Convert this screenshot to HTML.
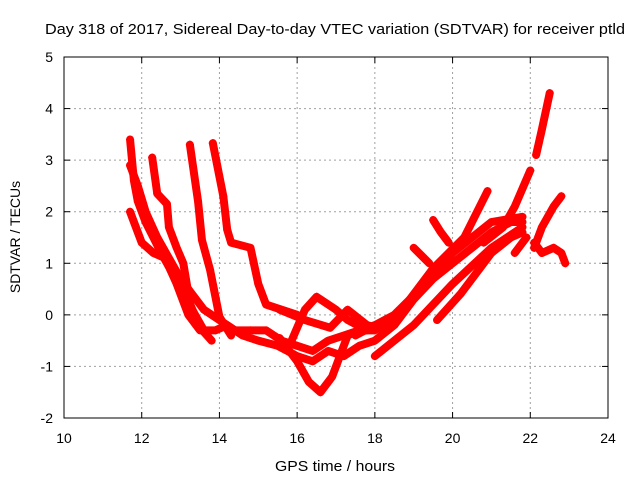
<!DOCTYPE html>
<html><head><meta charset="utf-8"><style>
body{margin:0;background:#fff}
svg{display:block;font-family:"Liberation Sans",sans-serif}
</style></head><body>
<svg id="chart" width="640" height="480" viewBox="0 0 640 480">
<rect width="640" height="480" fill="#fff"/>
<text x="45" y="34" font-size="15" textLength="580" lengthAdjust="spacingAndGlyphs">Day 318 of 2017, Sidereal Day-to-day VTEC variation (SDTVAR) for receiver ptld</text>
<g id="grid"></g>
<g id="marks"></g>
<rect x="64" y="57" width="544" height="361" fill="none" stroke="#000" stroke-width="1"/>
<g id="ticks"></g>
<text x="275" y="471" font-size="15" textLength="120" lengthAdjust="spacingAndGlyphs">GPS time / hours</text>
<text transform="translate(20,237) rotate(-90)" font-size="14" text-anchor="middle">SDTVAR / TECUs</text>
</svg>
<script>
const xTicks=[10,12,14,16,18,20,22,24];
const yTicks=[-2,-1,0,1,2,3,4,5];
const trackA=[[11.7,3.4],[11.8,2.6],[11.9,2.2],[12.1,1.8],[12.3,1.5],[12.5,1.2],[12.8,0.8],[13.0,0.5],[13.3,0.1],[13.6,-0.3],[13.9,-0.3],[14.2,-0.2],[14.6,-0.4],[15.0,-0.5],[15.5,-0.6],[16.0,-0.8],[16.4,-0.9],[16.8,-0.7],[17.2,-0.8],[17.6,-0.6],[18.0,-0.5],[18.5,-0.2],[19.0,0.3],[19.5,0.7],[20.0,1.0],[20.5,1.3],[21.0,1.6],[21.5,1.8],[21.8,1.8]];
const trackB=[[11.7,2.9],[11.9,2.5],[12.1,2.0],[12.4,1.5],[12.7,1.1],[13.0,0.7],[13.3,0.4],[13.6,0.1],[14.0,-0.1],[14.4,-0.3],[14.8,-0.3],[15.2,-0.3],[15.6,-0.5],[16.0,-0.6],[16.4,-0.7],[16.8,-0.5],[17.2,-0.4],[17.6,-0.3],[18.0,-0.3],[18.4,-0.1],[18.8,0.2],[19.5,0.9],[20.3,1.5],[20.9,2.4]];
const trackC=[[15.55,-0.45],[16.0,-0.9],[16.3,-1.3],[16.6,-1.5],[16.9,-1.2],[17.1,-0.8],[17.3,-0.4],[17.6,-0.3],[18.0,-0.2]];
const trackD=[[15.8,-0.6],[16.2,0.1],[16.5,0.35],[17.0,0.1],[17.3,-0.1],[17.8,-0.3]];
const trackE=[[15.55,0.1],[16.2,-0.1],[16.85,-0.25],[17.3,0.1],[17.8,-0.2],[18.3,-0.3]];
const trackF=[[13.24,3.3],[13.45,2.2],[13.55,1.45],[13.76,0.87],[14.0,-0.04],[14.3,-0.4]];
const trackG=[[13.83,3.33],[14.1,2.3],[14.2,1.65],[14.3,1.4],[14.8,1.3],[15.0,0.6],[15.2,0.2],[15.6,0.1],[16.0,0.0]];
const trackH=[[12.27,3.05],[12.4,2.35],[12.65,2.15],[12.7,1.7],[12.9,1.3],[13.07,1.0],[13.25,0.2],[13.5,-0.25],[13.8,-0.5]];
const trackI=[[11.7,2.0],[12.0,1.4],[12.3,1.2],[12.6,1.1],[12.9,0.6],[13.2,0.0],[13.5,-0.3]];
const trackJ=[[18.0,-0.8],[19.0,-0.2],[20.0,0.6],[21.0,1.3],[21.8,1.7]];
const trackK=[[19.6,-0.1],[20.2,0.4],[21.0,1.2],[21.5,1.5],[21.8,1.6]];
const trackL=[[17.5,-0.4],[18.5,0.0],[19.3,0.6],[20.0,1.2],[20.5,1.5],[21.0,1.8],[21.8,1.9]];
const trackM=[[20.8,1.4],[21.3,1.7],[21.6,2.1],[22.0,2.8]];
const trackN=[[19.5,1.84],[19.7,1.6],[19.9,1.4]];
const trackO=[[19.0,1.3],[19.4,1.0]];
const trackP=[[22.15,3.1],[22.3,3.6],[22.5,4.3]];
const trackQ=[[22.1,1.3],[22.3,1.7],[22.6,2.1],[22.8,2.3]];
const trackR=[[22.1,1.4],[22.3,1.2],[22.6,1.3],[22.8,1.2],[22.9,1.0]];
const trackS=[[21.6,1.2],[21.9,1.5]];
const tracks=[trackA,trackB,trackC,trackD,trackE,trackF,trackG,trackH,trackI,trackJ,trackK,trackL,trackM,trackN,trackO,trackP,trackQ,trackR,trackS];
const NS='http://www.w3.org/2000/svg';
const X=t=>64+(t-10)*544/14;
const Y=v=>57+(5-v)*361/7;
const grid=document.getElementById('grid'),ticks=document.getElementById('ticks'),marks=document.getElementById('marks');
function mk(tag,attrs,parent){const e=document.createElementNS(NS,tag);for(const k in attrs)e.setAttribute(k,attrs[k]);parent.appendChild(e);return e;}
xTicks.forEach(t=>{
 if(t>10&&t<24){const g=mk('line',{x1:X(t),x2:X(t),y1:57,y2:418,stroke:'#a0a0a0','stroke-dasharray':'2,3'},grid);
 
 }
 mk('line',{x1:X(t),x2:X(t),y1:418,y2:412,stroke:'#000'},ticks);
 mk('line',{x1:X(t),x2:X(t),y1:57,y2:63,stroke:'#000'},ticks);
 const l=mk('text',{x:X(t),y:443,'font-size':14,'text-anchor':'middle'},ticks);l.textContent=t;
 
 
});
yTicks.forEach(v=>{
 if(v>-2&&v<5){const g=mk('line',{x1:64,x2:608,y1:Y(v),y2:Y(v),stroke:'#a0a0a0','stroke-dasharray':'2,3'},grid);
 
 }
 mk('line',{x1:64,x2:70,y1:Y(v),y2:Y(v),stroke:'#000'},ticks);
 mk('line',{x1:608,x2:602,y1:Y(v),y2:Y(v),stroke:'#000'},ticks);
 const l=mk('text',{x:53,y:Y(v)+5,'font-size':14,'text-anchor':'end'},ticks);l.textContent=v;
 
 
});
tracks.forEach(tr=>{
 const p=mk('polyline',{points:tr.map(d=>X(d[0])+','+Y(d[1])).join(' '),fill:'none',stroke:'#ff0000','stroke-width':8,'stroke-linejoin':'round','stroke-linecap':'round'},marks);
 
 
 tr.forEach(d=>{
  const x=X(d[0]),y=Y(d[1]);
  const m=mk('path',{d:`M${x-4},${y}H${x+4}M${x},${y-4}V${y+4}`,stroke:'#ff0000','stroke-width':1},marks);
  
  
 });
});
</script>
</body></html>
